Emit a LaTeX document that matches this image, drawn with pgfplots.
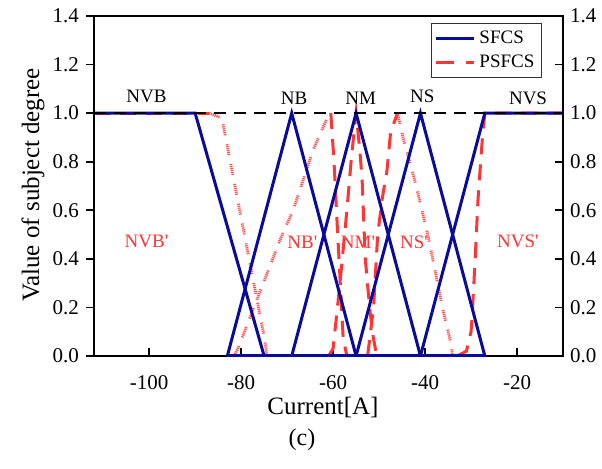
\documentclass[border=0pt]{standalone}
\usepackage{fontspec}
\setmainfont{Liberation Serif}
\usepackage{pgfplots}
\pgfplotsset{compat=1.18}
\definecolor{sfblue}{HTML}{0A0A9C}
\definecolor{psred}{HTML}{FF3535}

\tikzset{
  thickdash/.style={psred, line width=1.5pt, dash pattern=on 8pt off 5pt},
  thindot/.style={psred!85, line width=1.4pt,
    dash pattern={on .6pt off .4pt on .6pt off .4pt on .6pt off .4pt on .6pt off .4pt on .6pt off .4pt on .6pt off 4.5pt}},
}
\newcommand{\pr}{\textquotesingle}

\begin{document}
\begin{tikzpicture}
  % main axis: data, bottom ticks, right-hand labels
  \begin{axis}[
    scale only axis, width=234.5pt, height=170pt,
    xmin=-112, xmax=-10, ymin=0, ymax=1.4,
    xtick={-100,-80,-60,-40,-20},
    xticklabels={-100,-80,-60,-40,-20},
    ytick={0,0.2,0.4,0.6,0.8,1.0,1.2,1.4},
    yticklabels={0.0,0.2,0.4,0.6,0.8,1.0,1.2,1.4},
    xtick pos=bottom, ytick pos=right, yticklabel pos=right,
    tick align=inside, major tick length=4pt,
    tick style={black, line width=0.8pt},
    axis line style={line width=0.9pt},
    ticklabel style={font=\fontsize{10.5}{12}\selectfont},
    xticklabel style={yshift=-6pt},
    no markers, clip=false,
    legend style={at={(1,1)}, anchor=north east, xshift=-10.5pt, yshift=-3.5pt,
      font=\fontsize{9.5}{12}\selectfont, draw=black!80, line width=0.6pt,
      inner sep=1.5pt, row sep=0.5pt},
    legend cell align=left,
    legend image code/.code={\draw[#1] (0pt,0pt) -- (19pt,0pt);},
  ]
    \addlegendimage{sfblue, line width=1.5pt}
    \addlegendentry{SFCS}
    \addlegendimage{psred, line width=1.5pt, dash pattern=on 9pt off 6pt}
    \addlegendentry{PSFCS}

    % PSFCS (red)
    \addplot[thickdash, forget plot] coordinates {(-112,1) (-87,1)};
    \addplot[thindot, forget plot] coordinates {
      (-87,1) (-84.2,0.98) (-74.8,0.06) (-74.4,0)};
    \addplot[thindot, forget plot] coordinates {
      (-81.5,0) (-80.5,0.04) (-71.5,0.48) (-68.7,0.6) (-64.3,0.85) (-61.3,0.98) (-60.5,1)};
    \addplot[thickdash, forget plot] coordinates {
      (-60.5,1) (-59.8,0.8) (-59,0.5) (-58.3,0.25) (-57.8,0.07) (-57,0)};
    \addplot[thickdash, forget plot] coordinates {
      (-61,0) (-60,0.03) (-58.5,0.3) (-57,0.6) (-56,0.82) (-55,1)
      (-54.2,0.85) (-53.7,0.73) (-53,0.4) (-52,0.19) (-51.3,0.08) (-50.5,0)};
    \addplot[thickdash, forget plot] coordinates {
      (-52.5,0) (-51.2,0.2) (-50.3,0.5) (-49.3,0.65) (-48.3,0.76) (-47.5,0.92) (-46,1)};
    \addplot[thindot, forget plot] coordinates {
      (-46,1) (-44.8,0.9) (-42.2,0.72) (-39.3,0.49) (-36.1,0.19) (-34.6,0.07) (-34,0)};
    \addplot[thickdash, forget plot] coordinates {
      (-33,0) (-31,0.02) (-30,0.1) (-29.8,0.15) (-29.1,0.4) (-28.5,0.64)
      (-27.6,0.88) (-27,1) (-10,1)};

    % SFCS (blue)
    \addplot[sfblue, line width=1.5pt, forget plot] coordinates {(-112,1) (-90,1) (-75,0)};
    \addplot[sfblue, line width=1.5pt, forget plot] coordinates {(-83,0) (-69,1) (-55,0)};
    \addplot[sfblue, line width=1.5pt, forget plot] coordinates {(-69,0) (-55,1) (-41,0)};
    \addplot[sfblue, line width=1.5pt, forget plot] coordinates {(-55,0) (-41,1) (-27,0)};
    \addplot[sfblue, line width=1.5pt, forget plot] coordinates {(-41,0) (-27,1) (-10,1)};
    \addplot[sfblue, line width=1.5pt, forget plot] coordinates {(-83,0) (-27,0)};

    % reference line at 1
    \addplot[black, line width=1.2pt, dash pattern=on 6pt off 4pt, forget plot]
      coordinates {(-112,1) (-10,1)};

    \begin{scope}[font=\fontsize{9.5}{12}\selectfont]
      \node at (axis cs:-100.6,1.07) {NVB};
      \node at (axis cs:-68.5,1.06) {NB};
      \node at (axis cs:-54,1.06) {NM};
      \node at (axis cs:-40.6,1.07) {NS};
      \node at (axis cs:-17.6,1.06) {NVS};
      \node[psred] at (axis cs:-100.6,0.47) {NVB\pr};
      \node[psred] at (axis cs:-66.7,0.47) {NB\pr};
      \node[psred] at (axis cs:-54.6,0.47) {NM\pr};
      \node[psred] at (axis cs:-42.4,0.47) {NS\pr};
      \node[psred] at (axis cs:-19.8,0.47) {NVS\pr};
    \end{scope}
  \end{axis}

  % overlay axis: left-hand labels with outward ticks
  \begin{axis}[
    scale only axis, width=234.5pt, height=170pt,
    xmin=-112, xmax=-10, ymin=0, ymax=1.4,
    axis x line=none, axis y line*=left,
    ytick={0,0.2,0.4,0.6,0.8,1.0,1.2,1.4},
    yticklabels={0.0,0.2,0.4,0.6,0.8,1.0,1.2,1.4},
    tick align=outside, major tick length=4pt,
    tick style={black, line width=0.8pt},
    axis line style={line width=0.9pt},
    ticklabel style={font=\fontsize{10.5}{12}\selectfont},
  ]
  \end{axis}

  \node[font=\fontsize{12.5}{14}\selectfont] at (114.5pt,-26pt) {Current[A]};
  \node[font=\fontsize{12.5}{14}\selectfont, rotate=90] at (-30.5pt,85.5pt) {Value of subject degree};
  \node[font=\fontsize{12}{14}\selectfont] at (104pt,-42pt) {(c)};

  \pgfresetboundingbox
  \path[use as bounding box] (-47pt,-56.5pt) rectangle (254pt,178pt);
\end{tikzpicture}
\end{document}
